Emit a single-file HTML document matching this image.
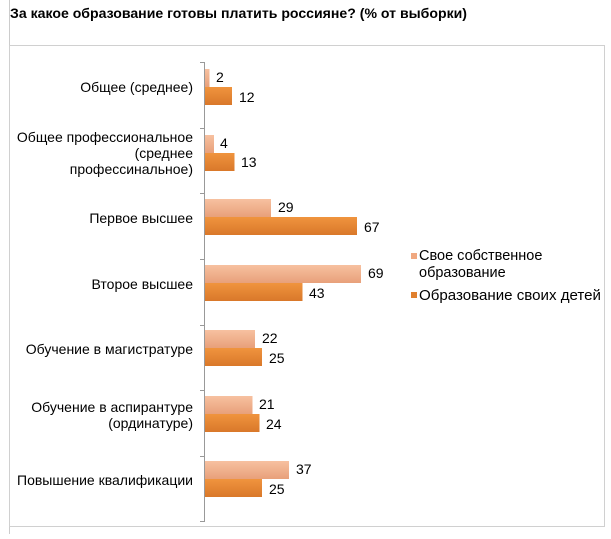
<!DOCTYPE html>
<html><head><meta charset="utf-8"><style>
body{margin:0;background:#fff;}
svg text{font-family:"Liberation Sans","Noto Sans CJK SC",sans-serif;fill:#000;}
</style></head><body>
<svg width="611" height="534" xmlns="http://www.w3.org/2000/svg">
<defs>
<linearGradient id="l" x1="0" y1="0" x2="0" y2="1"><stop offset="0" stop-color="#f7c1a0"/><stop offset="1" stop-color="#e8a07a"/></linearGradient>
<linearGradient id="d" x1="0" y1="0" x2="0" y2="1"><stop offset="0" stop-color="#f0943e"/><stop offset="1" stop-color="#d9782a"/></linearGradient>
</defs>
<line x1="9.5" y1="0" x2="9.5" y2="534" stroke="#ccc"/>
<text x="10" y="18" font-size="14" font-weight="bold" textLength="457" lengthAdjust="spacingAndGlyphs">За какое образование готовы платить россияне? (% от выборки)</text>
<rect x="9.5" y="45.5" width="595" height="481" fill="none" stroke="#d0d0d0"/>
<line x1="204.5" y1="62" x2="204.5" y2="522" stroke="#999"/>
<g stroke="#999">
<line x1="200" y1="62.5" x2="204" y2="62.5"/><line x1="200" y1="128.5" x2="204" y2="128.5"/><line x1="200" y1="193.5" x2="204" y2="193.5"/><line x1="200" y1="259.5" x2="204" y2="259.5"/><line x1="200" y1="325.5" x2="204" y2="325.5"/><line x1="200" y1="390.5" x2="204" y2="390.5"/><line x1="200" y1="456.5" x2="204" y2="456.5"/><line x1="200" y1="521.5" x2="204" y2="521.5"/>
</g>
<g font-size="14" text-anchor="end">
<text x="193" y="92">Общее (среднее)</text>
<text x="193" y="142">Общее профессиональное</text>
<text x="193" y="158">(среднее</text>
<text x="193" y="174">профессинальное)</text>
<text x="193" y="223">Первое высшее</text>
<text x="193" y="289">Второе высшее</text>
<text x="193" y="354">Обучение в магистратуре</text>
<text x="193" y="412">Обучение в аспирантуре</text>
<text x="193" y="428">(ординатуре)</text>
<text x="193" y="485">Повышение квалификации</text>
</g>
<g font-size="14">
<rect x="205" y="69" width="4.5" height="18" fill="url(#l)"/><rect x="205" y="87" width="27" height="18" fill="url(#d)"/>
<text x="216" y="82">2</text><text x="239" y="102">12</text>
<rect x="205" y="135" width="9" height="18" fill="url(#l)"/><rect x="205" y="153" width="29.5" height="18" fill="url(#d)"/>
<text x="220" y="148">4</text><text x="241" y="167">13</text>
<rect x="205" y="199" width="66" height="18" fill="url(#l)"/><rect x="205" y="217" width="152" height="18" fill="url(#d)"/>
<text x="278" y="212">29</text><text x="364" y="232">67</text>
<rect x="205" y="265" width="156" height="18" fill="url(#l)"/><rect x="205" y="283" width="97.5" height="18" fill="url(#d)"/>
<text x="368" y="278">69</text><text x="309" y="298">43</text>
<rect x="205" y="330" width="50" height="18" fill="url(#l)"/><rect x="205" y="348" width="57" height="18" fill="url(#d)"/>
<text x="262" y="343">22</text><text x="269" y="363">25</text>
<rect x="205" y="396" width="47.5" height="18" fill="url(#l)"/><rect x="205" y="414" width="54.5" height="18" fill="url(#d)"/>
<text x="259" y="409">21</text><text x="266" y="429">24</text>
<rect x="205" y="461" width="84" height="18" fill="url(#l)"/><rect x="205" y="479" width="57" height="18" fill="url(#d)"/>
<text x="296" y="474">37</text><text x="269" y="494">25</text>
</g>
<rect x="411" y="253" width="6" height="6" fill="#f0a880"/>
<rect x="411" y="292" width="6" height="6" fill="#e0802e"/>
<g font-size="14.5">
<text x="419" y="260">Свое собственное</text>
<text x="419" y="277">образование</text>
<text x="419" y="300" textLength="182" lengthAdjust="spacingAndGlyphs">Образование своих детей</text>
</g>
</svg>
</body></html>
